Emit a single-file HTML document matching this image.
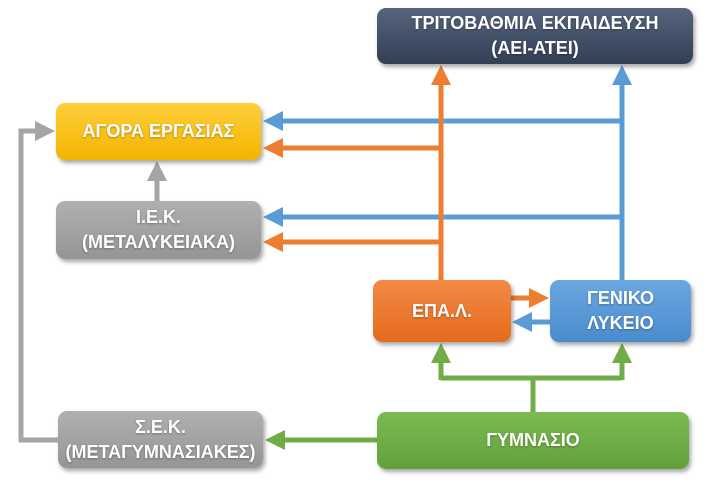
<!DOCTYPE html>
<html><head><meta charset="utf-8"><style>
html,body{margin:0;padding:0;background:#fff;width:717px;height:488px;overflow:hidden}
.b{position:absolute;border-radius:9px;color:#fff;font-family:"Liberation Sans","DejaVu Sans",sans-serif;font-weight:bold;font-size:18px;display:flex;align-items:center;justify-content:center;text-align:center;line-height:25px;box-shadow:2px 3px 4px rgba(0,0,0,0.35);text-shadow:0 1px 2px rgba(0,0,0,0.3)}
svg{position:absolute;left:0;top:0}
</style></head><body>
<svg width="717" height="488">
<defs>
<marker id="mb" markerWidth="4" markerHeight="4" refX="3" refY="2" orient="auto" markerUnits="strokeWidth"><path d="M0,0L4,2L0,4z" fill="#5b9bd5"/></marker>
<marker id="mo" markerWidth="4" markerHeight="4" refX="3" refY="2" orient="auto" markerUnits="strokeWidth"><path d="M0,0L4,2L0,4z" fill="#ed7d31"/></marker>
<marker id="mg" markerWidth="4" markerHeight="4" refX="3" refY="2" orient="auto" markerUnits="strokeWidth"><path d="M0,0L4,2L0,4z" fill="#70ad47"/></marker>
<marker id="mr" markerWidth="4" markerHeight="4" refX="3" refY="2" orient="auto" markerUnits="strokeWidth"><path d="M0,0L4,2L0,4z" fill="#a5a5a5"/></marker>
</defs>
<g fill="none" stroke-width="5">
<path d="M622 282V70" stroke="#5b9bd5" marker-end="url(#mb)"/>
<path d="M622 121H268" stroke="#5b9bd5" marker-end="url(#mb)"/>
<path d="M622 217H268" stroke="#5b9bd5" marker-end="url(#mb)"/>
<path d="M441 282V70" stroke="#ed7d31" marker-end="url(#mo)"/>
<path d="M441 148H268" stroke="#ed7d31" marker-end="url(#mo)"/>
<path d="M441 242H268" stroke="#ed7d31" marker-end="url(#mo)"/>
<path d="M511 298H544" stroke="#ed7d31" marker-end="url(#mo)"/>
<path d="M552 322H517" stroke="#5b9bd5" marker-end="url(#mb)"/>
<path d="M533 412V378M441 378H622M441 378V348M622 378V348" stroke="#70ad47"/>
<path d="M441 380V348" stroke="#70ad47" marker-end="url(#mg)"/>
<path d="M622 380V348" stroke="#70ad47" marker-end="url(#mg)"/>
<path d="M379 440H270" stroke="#70ad47" marker-end="url(#mg)"/>
<path d="M60 440H21V131H50" stroke="#a5a5a5" marker-end="url(#mr)"/>
<path d="M157 202V166" stroke="#a5a5a5" marker-end="url(#mr)"/>
</g>
</svg>
<div class="b" style="left:377px;top:8px;width:316px;height:56px;background:linear-gradient(#56657e,#323f55)">ΤΡΙΤΟΒΑΘΜΙΑ ΕΚΠΑΙΔΕΥΣΗ<br>(ΑΕΙ-ΑΤΕΙ)</div>
<div class="b" style="left:56px;top:103px;width:205px;height:57px;background:linear-gradient(#ffcf3a,#f2b400)">ΑΓΟΡΑ ΕΡΓΑΣΙΑΣ</div>
<div class="b" style="left:56px;top:201px;width:205px;height:58px;background:linear-gradient(#b0b0b0,#959595)">Ι.Ε.Κ.<br>(ΜΕΤΑΛΥΚΕΙΑΚΑ)</div>
<div class="b" style="left:373px;top:280px;width:138px;height:62px;background:linear-gradient(#f28a45,#e56b1d)">ΕΠΑ.Λ.</div>
<div class="b" style="left:550px;top:280px;width:141px;height:62px;background:linear-gradient(#6aa8e0,#4a8bcd)">ΓΕΝΙΚΟ<br>ΛΥΚΕΙΟ</div>
<div class="b" style="left:58px;top:411px;width:205px;height:57px;background:linear-gradient(#b0b0b0,#959595)">Σ.Ε.Κ.<br>(ΜΕΤΑΓΥΜΝΑΣΙΑΚΕΣ)</div>
<div class="b" style="left:377px;top:412px;width:312px;height:57px;background:linear-gradient(#7cbb52,#63a03a)">ΓΥΜΝΑΣΙΟ</div>
</body></html>
